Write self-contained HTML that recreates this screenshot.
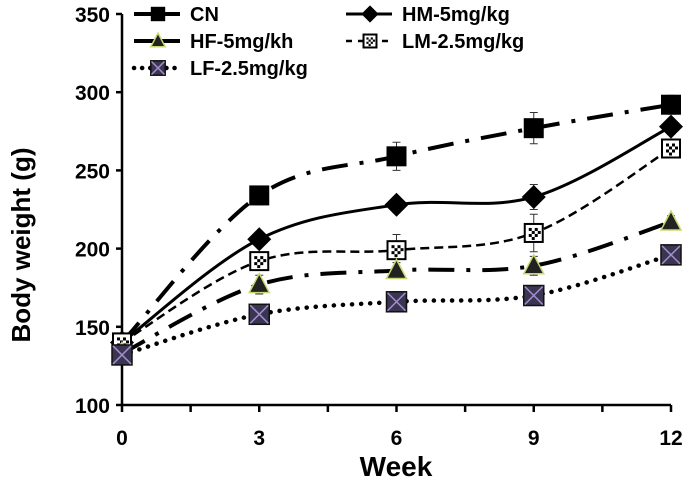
<!DOCTYPE html>
<html><head><meta charset="utf-8"><style>
body{margin:0;background:#fff;}
svg{display:block;font-family:"Liberation Sans",sans-serif;font-weight:bold;}
</style></head><body>
<svg id="chart" width="685" height="492" viewBox="0 0 685 492">
<g id="axes"></g>
<g id="series"></g>
<g id="legend"></g>
<text x="30" y="245" font-size="26" text-anchor="middle" transform="rotate(-90 30 245)">Body weight (g)</text>
<text x="396" y="476" font-size="28" text-anchor="middle">Week</text>
</svg>
<script>
const weeks=[0,3,6,9,12];
const yTicks=[100,150,200,250,300,350];
const seriesNames=["CN","HM-5mg/kg","HF-5mg/kh","LM-2.5mg/kg","LF-2.5mg/kg"];
const cnVals=[140,234,259,277,292];
const hmVals=[140,206,228,233,278];
const lmVals=[140,192,199,210,264];
const hfVals=[133,177,186,189,217];
const lfVals=[132,158,166,170,196];
const cnErr=[3,6,9,10,6];
const hmErr=[3,4,5,8,4];
const lmErr=[3,5,10,12,4];
const hfErr=[3,6,5,6,4];
const lfErr=[3,3,3,3,3];

const NS="http://www.w3.org/2000/svg";
const X0=122,X1=671,Y0=405,Y1=14;
const xs=v=>X0+(v-0)/12*(X1-X0);
const ys=v=>Y0-(v-100)/250*(Y0-Y1);
function mk(tag,attrs,parent){const e=document.createElementNS(NS,tag);for(const k in attrs)e.setAttribute(k,attrs[k]);parent.appendChild(e);return e;}
const axes=document.getElementById('axes');
let a=mk('line',{x1:X0,y1:Y1,x2:X0,y2:Y0,stroke:'#000','stroke-width':2.5},axes);


a=mk('line',{x1:X0,y1:Y0,x2:X1,y2:Y0,stroke:'#000','stroke-width':2.5},axes);


yTicks.forEach(t=>{
  mk('line',{x1:X0-6,y1:ys(t),x2:X0,y2:ys(t),stroke:'#000','stroke-width':2.5},axes);
  const tx=mk('text',{x:X0-12,y:ys(t)+8,'font-size':21,'text-anchor':'end'},axes);
  tx.textContent=t;
  
  
});
for(let w=0;w<=12;w+=1.5){
  mk('line',{x1:xs(w),y1:Y0,x2:xs(w),y2:Y0+7,stroke:'#000','stroke-width':2.5},axes);
}
weeks.forEach(w=>{
  const tx=mk('text',{x:xs(w),y:Y0+40,'font-size':21,'text-anchor':'middle'},axes);
  tx.textContent=w;
  
  
});
function smooth(pts){
  let d=`M${pts[0][0]},${pts[0][1]}`;
  for(let i=0;i<pts.length-1;i++){
    const p0=pts[i-1]||pts[i],p1=pts[i],p2=pts[i+1],p3=pts[i+2]||p2;
    const t=0.17;
    const c1=[p1[0]+(p2[0]-p0[0])*t,p1[1]+(p2[1]-p0[1])*t];
    const c2=[p2[0]-(p3[0]-p1[0])*t,p2[1]-(p3[1]-p1[1])*t];
    d+=` C${c1[0]},${c1[1]} ${c2[0]},${c2[1]} ${p2[0]},${p2[1]}`;
  }
  return d;
}
function marker(type,x,y,g,s){
  s=s||1;let m;
  if(type==='square') m=mk('rect',{x:x-10*s,y:y-10*s,width:20*s,height:20*s,fill:'#000'},g);
  else if(type==='diamond') m=mk('polygon',{points:`${x},${y-12*s} ${x+12*s},${y} ${x},${y+12*s} ${x-12*s},${y}`,fill:'#000'},g);
  else if(type==='check'){m=mk('g',{},g);
    mk('rect',{x:x-9*s,y:y-9*s,width:18*s,height:18*s,fill:'#fff',stroke:'#000','stroke-width':2},m);
    [[-5,-5],[1,-5],[-2,-2],[4,-2],[-5,1],[1,1],[-2,4]].forEach(o=>mk('rect',{x:x+o[0]*s,y:y+o[1]*s,width:3*s,height:3*s,fill:'#000'},m));}
  else if(type==='tri') m=mk('polygon',{points:`${x},${y-11*s} ${x+10*s},${y+8*s} ${x-10*s},${y+8*s}`,fill:'#222',stroke:'#c8d870','stroke-width':1.5},g);
  else {m=mk('g',{},g);
    mk('rect',{x:x-10*s,y:y-10*s,width:20*s,height:20*s,fill:'#3a3550',stroke:'#111','stroke-width':1.5},m);
    mk('path',{d:`M${x-9*s},${y-9*s}L${x+9*s},${y+9*s}M${x+9*s},${y-9*s}L${x-9*s},${y+9*s}`,stroke:'#a48ed0','stroke-width':1.5},m);}
  return m;
}
const defs=[
 {vals:cnVals,err:cnErr,dash:'26 12 4 12',w:4,mark:'square',name:'series-cn',ld:''},
 {vals:hmVals,err:hmErr,dash:'',w:3,mark:'diamond',name:'series-hm',ld:''},
 {vals:lmVals,err:lmErr,dash:'9 5',w:2.5,mark:'check',name:'series-lm',ld:'6 6'},
 {vals:hfVals,err:hfErr,dash:'26 12 4 12',w:4,mark:'tri',name:'series-hf',ld:''},
 {vals:lfVals,err:lfErr,dash:'0.1 9',w:4.5,mark:'x',name:'series-lf',ld:'0.1 8'}
];
const sg=document.getElementById('series');
defs.forEach(s=>{
  const g=mk('g',{},sg);
  
  
  const pts=weeks.map((w,i)=>[xs(w),ys(s.vals[i])]);
  const p=mk('path',{d:smooth(pts),fill:'none',stroke:'#000','stroke-width':s.w,'stroke-dasharray':s.dash,'stroke-linecap':s.dash.startsWith('0.1')?'round':'butt'},g);
  
  
  weeks.forEach((w,i)=>{
    const x=xs(w),yt=ys(s.vals[i]+s.err[i]),yb=ys(s.vals[i]-s.err[i]);
    mk('path',{d:`M${x},${yt}V${yb}M${x-4},${yt}H${x+4}M${x-4},${yb}H${x+4}`,stroke:'#333','stroke-width':1},g);
    const m=marker(s.mark,x,ys(s.vals[i]),g);
    
    
  });
});
const lg=document.getElementById('legend');
const legendItems=[
 {x:134,y:14,d:0,label:seriesNames[0]},
 {x:346,y:14,d:1,label:seriesNames[1]},
 {x:134,y:41,d:3,label:seriesNames[2]},
 {x:346,y:41,d:2,label:seriesNames[3]},
 {x:134,y:68,d:4,label:seriesNames[4]}
];
legendItems.forEach(it=>{
  const s=defs[it.d];
  const g=mk('g',{},lg);
  
  
  mk('line',{x1:it.x,y1:it.y,x2:it.x+46,y2:it.y,stroke:'#000','stroke-width':s.w,'stroke-dasharray':s.ld,'stroke-linecap':it.d===4?'round':'butt'},g);
  marker(s.mark,it.x+24,it.y,g,0.72);
  const t=mk('text',{x:it.x+56,y:it.y+7,'font-size':20},g);
  t.textContent=it.label;
});
</script>
</body></html>
